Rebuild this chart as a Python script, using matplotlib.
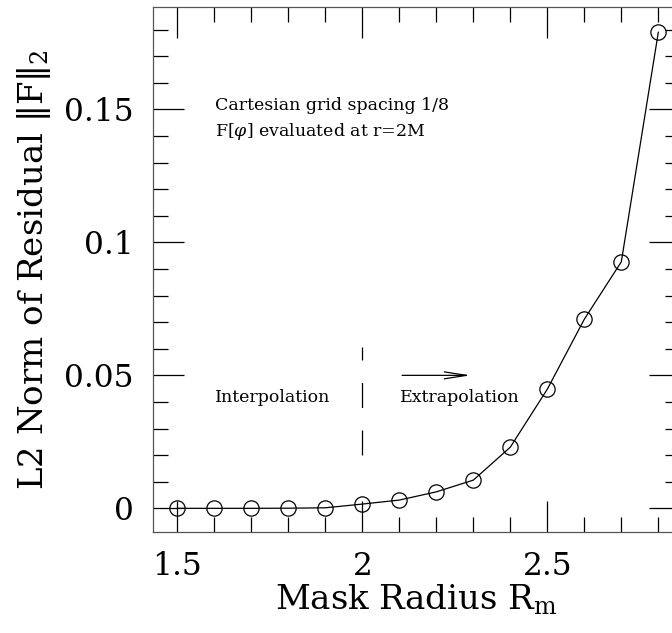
import matplotlib
matplotlib.use("Agg")
import matplotlib.pyplot as plt
from matplotlib.ticker import MultipleLocator

# Data
radius = [1.5, 1.6, 1.7, 1.8, 1.9, 2.0, 2.1, 2.2, 2.3, 2.4, 2.5, 2.6, 2.7, 2.8]
residual = [0.0, 0.0, 0.0, 0.00005, 0.0002, 0.0016, 0.0031, 0.0062, 0.0106,
            0.023, 0.0448, 0.0711, 0.0927, 0.179]
xticks = [1.5, 2.0, 2.5]
xticklabels = ["1.5", "2", "2.5"]
yticks = [0.0, 0.05, 0.1, 0.15]
yticklabels = ["0", "0.05", "0.1", "0.15"]

plt.rcParams['font.family'] = ['DejaVu Serif']
plt.rcParams['mathtext.fontset'] = 'dejavuserif'

fig = plt.figure(figsize=(6.72, 6.33), dpi=100)
ax = fig.add_axes([153/672, 101/633, 527/672, 525/633])

ax.plot(radius, residual, color='black', lw=0.9, marker='o', ms=11,
        mfc='none', mec='black', mew=0.9)

ax.set_xlim(1.4343, 2.8586)
ax.set_ylim(-0.0089, 0.1885)

ax.set_xticks(xticks)
ax.set_xticklabels(xticklabels)
ax.set_yticks(yticks)
ax.set_yticklabels(yticklabels)
ax.xaxis.set_minor_locator(MultipleLocator(0.1))
ax.yaxis.set_minor_locator(MultipleLocator(0.01))
ax.tick_params(which='both', direction='in', top=True, right=True,
               labelsize=22.5, width=0.9)
ax.tick_params(which='major', length=22, pad=14)
ax.tick_params(which='minor', length=11)
for s in ax.spines.values():
    s.set_linewidth(0.9)
    s.set_color('#555555')

ax.set_xlabel(r'Mask Radius R$_\mathrm{m}$', fontsize=24.5, labelpad=0)
ax.set_ylabel(r'L2 Norm of Residual $\|\mathrm{F}\|_2$', fontsize=24.5, labelpad=8)

fs = 12.5
ax.text(1.602, 0.1516, 'Cartesian grid spacing 1/8', fontsize=fs, va='center')
ax.text(1.602, 0.1416, r'F[$\varphi$] evaluated at r=2M', fontsize=fs, va='center')
ax.text(1.602, 0.0415, 'Interpolation', fontsize=fs, va='center')
ax.text(2.102, 0.0415, 'Extrapolation', fontsize=fs, va='center')

ax.plot([2.0, 2.0], [0.02, 0.0605], color='black', lw=0.9,
        linestyle=(0, (20, 18)))
ax.annotate('', xy=(2.3, 0.05), xytext=(2.1, 0.05),
            arrowprops=dict(arrowstyle='->,head_length=1.6,head_width=0.25',
                            color='black', lw=0.9))

fig.savefig('out.png', dpi=100)
